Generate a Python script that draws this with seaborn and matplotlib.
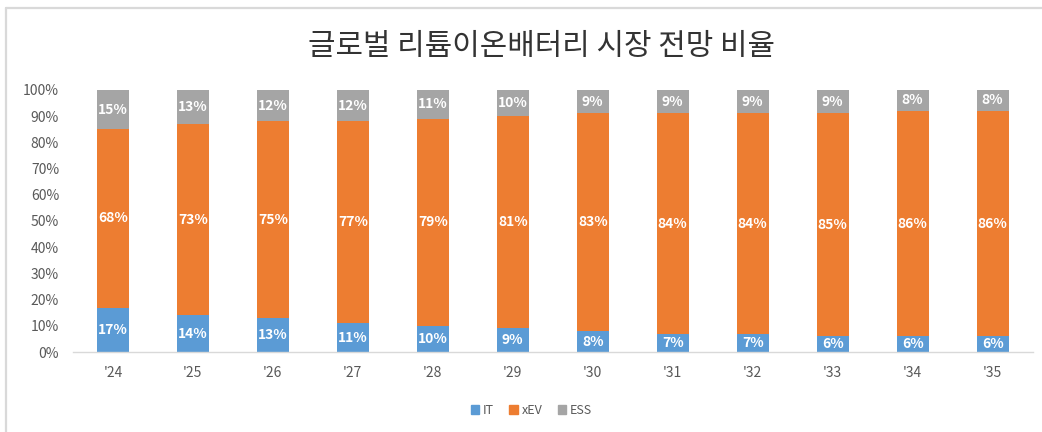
import matplotlib
matplotlib.use("Agg")
import matplotlib.pyplot as plt
import matplotlib.lines as mlines
import matplotlib.patches as mpatches
import numpy as np
import pandas as pd
import seaborn as sns

# Chart data (percent shares per year)
years = ["'24", "'25", "'26", "'27", "'28", "'29", "'30", "'31", "'32", "'33", "'34", "'35"]
it_share = [17, 14, 13, 11, 10, 9, 8, 7, 7, 6, 6, 6]
xev_share = [68, 73, 75, 77, 79, 81, 83, 84, 84, 85, 86, 86]
ess_share = [15, 13, 12, 12, 11, 10, 9, 9, 9, 9, 8, 8]
y_ticks = [0, 10, 20, 30, 40, 50, 60, 70, 80, 90, 100]

colors = {"IT": "#5B9BD5", "xEV": "#ED7D31", "ESS": "#A5A5A5"}

sns.set_theme(style="white")
plt.rcParams["font.family"] = ["Noto Sans CJK KR", "DejaVu Sans"]

df = pd.DataFrame({"year": years, "IT": it_share, "xEV": xev_share, "ESS": ess_share})
df["it_top"] = df["IT"]
df["xev_top"] = df["IT"] + df["xEV"]
df["ess_top"] = df["xev_top"] + df["ESS"]

fig = plt.figure(figsize=(10.42, 4.32), dpi=100)
ax = fig.add_axes([0.070, 0.185, 0.921, 0.607])

# stacked bars drawn back to front with cumulative heights
for col, key in [("ess_top", "ESS"), ("xev_top", "xEV"), ("it_top", "IT")]:
    sns.barplot(data=df, x="year", y=col, color=colors[key], width=0.4,
                saturation=1, linewidth=0, ax=ax)

# segment labels
for i, row in df.iterrows():
    for lo, hi, val in [(0, row["it_top"], row["IT"]),
                        (row["it_top"], row["xev_top"], row["xEV"]),
                        (row["xev_top"], row["ess_top"], row["ESS"])]:
        ax.text(i, (lo + hi) / 2, f"{val}%", ha="center", va="center",
                color="white", fontsize=10, fontweight="semibold")

ax.set_ylim(0, 100)
ax.set_xlim(-0.5, len(years) - 0.5)
ax.set_yticks(y_ticks)
ax.set_yticklabels([f"{t}%" for t in y_ticks])
ax.set_xlabel("")
ax.set_ylabel("")
ax.tick_params(axis="both", colors="#595959", labelsize=10, length=0)
ax.tick_params(axis="x", pad=10)
ax.tick_params(axis="y", pad=10)
for side in ["top", "right", "left"]:
    ax.spines[side].set_visible(False)
ax.spines["bottom"].set_color("#D9D9D9")
ax.spines["bottom"].set_linewidth(1)

fig.text(0.52, 0.893, "글로벌 리튬이온배터리 시장 전망 비율", ha="center", va="center",
         fontsize=21.5, color="#333333")

handles = [mpatches.Patch(color=colors[k], label=k) for k in ["IT", "xEV", "ESS"]]
fig.legend(handles=handles, loc="center", bbox_to_anchor=(0.51, 0.05), ncol=3,
           frameon=False, fontsize=9, handlelength=0.7, handleheight=0.7,
           handletextpad=0.3, columnspacing=1.2, labelcolor="#595959")

# light frame on top and left edge
fig.add_artist(mlines.Line2D([0.0062, 1.0], [0.981, 0.981], color="#D9D9D9", lw=1.6,
                             transform=fig.transFigure))
fig.add_artist(mlines.Line2D([0.0062, 0.0062], [0.0, 0.981], color="#D9D9D9", lw=1.6,
                             transform=fig.transFigure))

fig.savefig("out.png", dpi=100)
